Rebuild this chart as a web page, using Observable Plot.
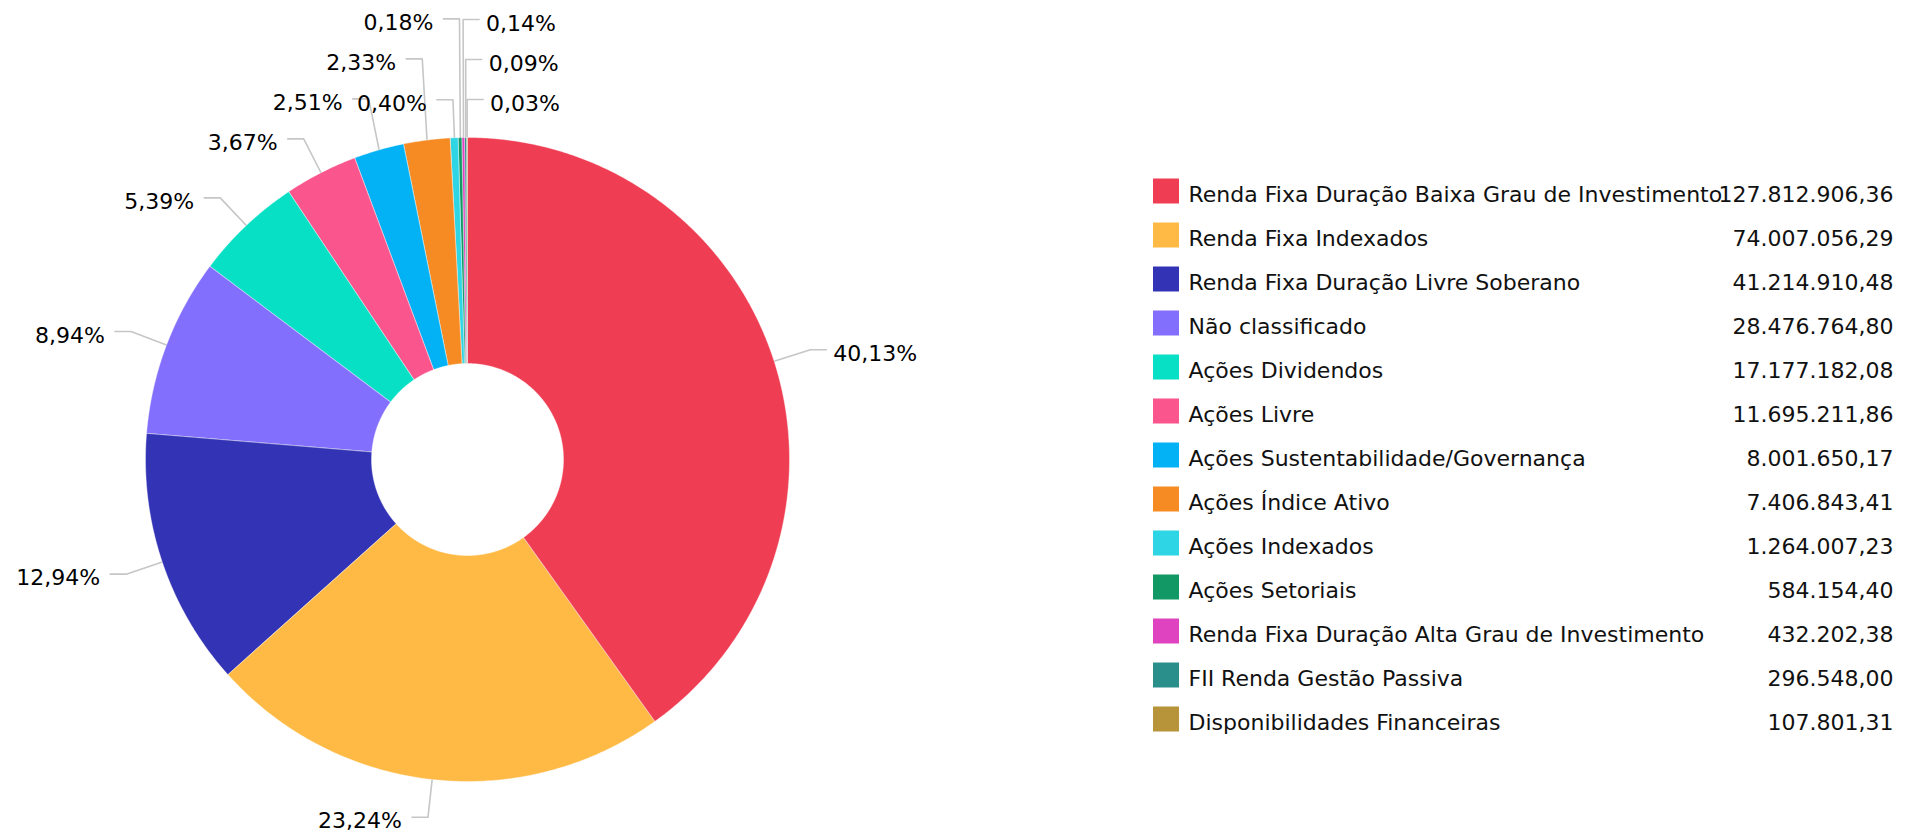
<!DOCTYPE html>
<html>
<head>
<meta charset="utf-8">
<script src="https://cdn.jsdelivr.net/npm/d3@7"></script>
<script src="https://cdn.jsdelivr.net/npm/@observablehq/plot@0.6"></script>
<style>
  html, body { margin: 0; padding: 0; background: #fff; }
  #wrap { position: relative; width: 1921px; height: 838px; overflow: hidden; }
  #pie, #legend { position: absolute; top: 0; }
  #pie { left: 0; }
  #legend { left: 1140px; }
</style>
</head>
<body>
<div id="wrap"><div id="pie"></div><div id="legend"></div></div>
<script>
// ---------------- data ----------------
const categories = [
  "Renda Fixa Duração Baixa Grau de Investimento",
  "Renda Fixa Indexados",
  "Renda Fixa Duração Livre Soberano",
  "Não classificado",
  "Ações Dividendos",
  "Ações Livre",
  "Ações Sustentabilidade/Governança",
  "Ações Índice Ativo",
  "Ações Indexados",
  "Ações Setoriais",
  "Renda Fixa Duração Alta Grau de Investimento",
  "FII Renda Gestão Passiva",
  "Disponibilidades Financeiras"
];
const values = [
  127812906.36, 74007056.29, 41214910.48, 28476764.80, 17177182.08,
  11695211.86, 8001650.17, 7406843.41, 1264007.23, 584154.40,
  432202.38, 296548.00, 107801.31
];
const colors = [
  "#EF3E53", "#FFBA45", "#3333B5", "#836FFD", "#08E0C6",
  "#FA558D", "#03B1F5", "#F68B23", "#2DD5E5", "#119864",
  "#E043BF", "#2A8F8B", "#B7943A"
];

// ---------------- layout constants ----------------
const W = 1140, H = 838;
const cx = 467, cy = 459, R = 322, R0 = 96;
const labelDist = 38, hookLen = 16, gapR = 7, gapL = 10, spacing = 40;
const FONT = "DejaVu Sans";

const br = d3.formatLocale({decimal: ",", thousands: ".", grouping: [3], currency: ["", ""]});
const fmtValue = br.format(",.2f");
const total = d3.sum(values);
const pctText = v => (v / total * 100).toFixed(2).replace(".", ",") + "%";

const rows = categories.map((name, i) => ({name, value: values[i], color: colors[i]}));
const arcs = d3.pie().sort(null).value(d => d.value)(rows);

// slice polygons (outer arc then inner arc)
const slicePts = [];
for (const a of arcs) {
  const n = Math.max(2, Math.ceil((a.endAngle - a.startAngle) / (Math.PI / 360)) + 1);
  for (let k = 0; k < n; k++) {
    const t = a.startAngle + (a.endAngle - a.startAngle) * k / (n - 1);
    slicePts.push({name: a.data.name, x: cx + R * Math.sin(t), y: cy - R * Math.cos(t)});
  }
  for (let k = n - 1; k >= 0; k--) {
    const t = a.startAngle + (a.endAngle - a.startAngle) * k / (n - 1);
    slicePts.push({name: a.data.name, x: cx + R0 * Math.sin(t), y: cy - R0 * Math.cos(t)});
  }
}

// ---------------- labels ----------------
const ctx = document.createElement("canvas").getContext("2d");
ctx.font = `22px "${FONT}"`;
const labels = arcs.map((a, i) => {
  const m = (a.startAngle + a.endAngle) / 2;
  const right = Math.sin(m) > 0 || m > 2 * Math.PI - Math.PI / 180;
  // position along the side, measured from the top (0) to the bottom (PI)
  const along = right ? (m > Math.PI ? m - 2 * Math.PI : m) : 2 * Math.PI - m;
  const text = pctText(a.data.value);
  const w = ctx.measureText(text).width;
  const bx = cx + (R + labelDist) * Math.sin(m);
  const ny = cy - (R + labelDist) * Math.cos(m);
  const tx = right ? bx + hookLen + gapR : bx - hookLen - gapL;
  return {
    i, text, right, along, value: a.data.value,
    ex: cx + R * Math.sin(m), ey: cy - R * Math.cos(m),
    bx, ny, y: ny, tx,
    x0: right ? tx : tx - w, x1: right ? tx + w : tx
  };
});
// de-overlap: upper labels are stacked upwards from the bottom, lower ones downwards
const placed = [];
const upper = labels.filter(L => L.ny < cy).sort((a, b) => b.along - a.along);
const lower = labels.filter(L => L.ny >= cy).sort((a, b) => a.along - b.along);
for (const L of [...upper, ...lower]) {
  const up = L.ny < cy;
  for (let iter = 0; iter < 50; iter++) {
    const hit = placed.find(P => P.right === L.right &&
      P.x0 < L.x1 + 10 && L.x0 < P.x1 + 10 && Math.abs(P.y - L.y) < spacing - 1);
    if (!hit) break;
    L.y = up ? hit.y - spacing : hit.y + spacing;
  }
  placed.push(L);
}
const connectors = labels.flatMap(L => [
  {id: L.i, x: L.ex, y: L.ey},
  {id: L.i, x: L.bx, y: L.y},
  {id: L.i, x: L.right ? L.bx + hookLen : L.bx - hookLen, y: L.y}
]);

// ---------------- pie plot ----------------
const pie = Plot.plot({
  width: W, height: H,
  margin: 0,
  x: {type: "linear", domain: [0, W], range: [0, W], axis: null},
  y: {type: "linear", domain: [0, H], range: [0, H], axis: null},
  color: {type: "ordinal", domain: categories, range: colors},
  style: {fontFamily: FONT, background: "white", overflow: "visible"},
  marks: [
    Plot.line(connectors, {x: "x", y: "y", z: "id", stroke: "#c6c6c6", strokeWidth: 1.6, curve: "linear"}),
    Plot.line(slicePts, {x: "x", y: "y", z: "name", fill: "name", stroke: "white", strokeWidth: 0.4, curve: "linear-closed"}),
    Plot.text(labels.filter(d => d.right), {x: "tx", y: "y", text: "text", textAnchor: "start", lineAnchor: "middle", dy: 4, fontSize: 22, fill: "#000"}),
    Plot.text(labels.filter(d => !d.right), {x: "tx", y: "y", text: "text", textAnchor: "end", lineAnchor: "middle", dy: 4, fontSize: 22, fill: "#000"})
  ]
});
document.getElementById("pie").appendChild(pie);

// ---------------- legend plot ----------------
const LW = 781;
const legend = Plot.plot({
  width: LW, height: H,
  margin: 0,
  x: {type: "linear", domain: [0, LW], range: [0, LW], axis: null},
  y: {type: "band", domain: categories, range: [168.5, 168.5 + 44 * categories.length], padding: 0, axis: null},
  color: {type: "ordinal", domain: categories, range: colors},
  style: {fontFamily: FONT, background: "transparent", overflow: "visible"},
  marks: [
    Plot.barX(rows, {x1: 13, x2: 39, y: "name", fill: "name", insetTop: 9.5, insetBottom: 9.5}),
    Plot.text(rows, {x: 48, y: "name", text: "name", textAnchor: "start", lineAnchor: "middle", dy: 3, fontSize: 22, fill: "#111"}),
    Plot.text(rows, {x: 753, y: "name", text: d => fmtValue(d.value), textAnchor: "end", lineAnchor: "middle", dy: 3, fontSize: 22, fill: "#111"})
  ]
});
document.getElementById("legend").appendChild(legend);
</script>
</body>
</html>
